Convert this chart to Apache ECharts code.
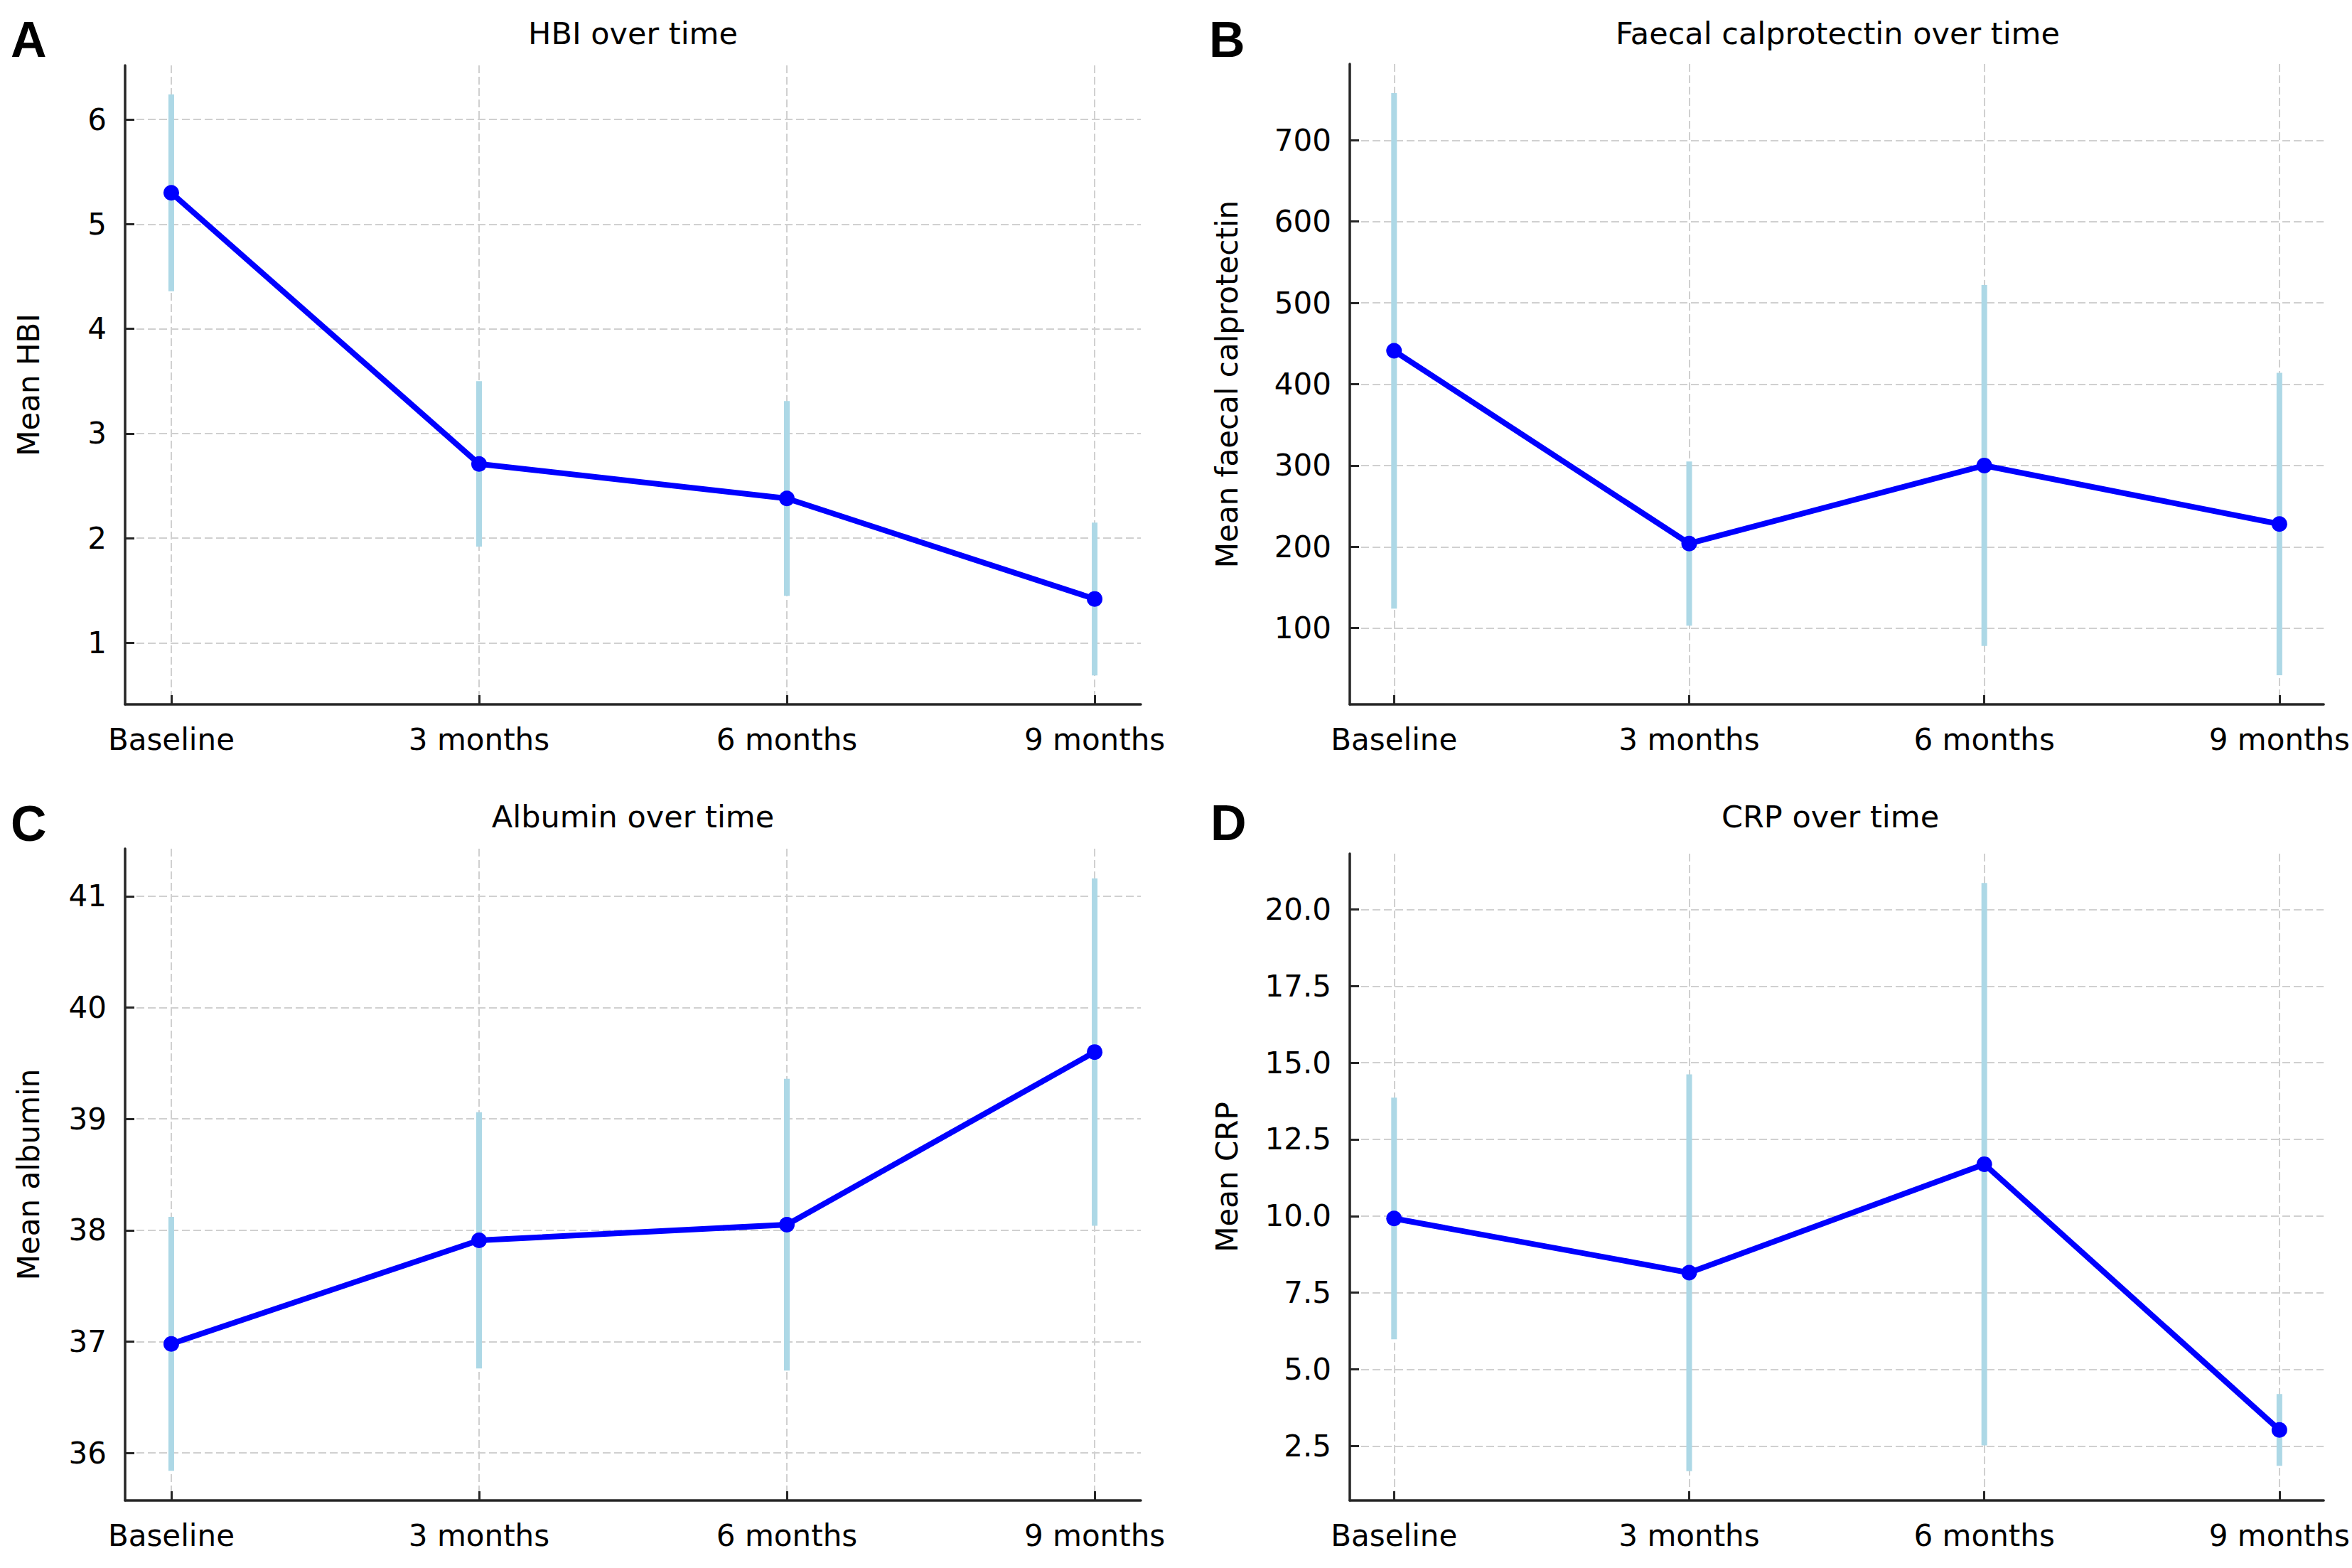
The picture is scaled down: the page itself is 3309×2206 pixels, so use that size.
<!DOCTYPE html>
<html>
<head>
<meta charset="utf-8">
<title>Outcomes over time</title>
<script src="https://cdn.jsdelivr.net/npm/echarts@6/dist/echarts.min.js"></script>
<style>
  html, body { margin: 0; padding: 0; background: #ffffff; }
  #chart { width: 3309px; height: 2206px; }
</style>
</head>
<body>
<div id="chart"></div>
<script>
// ---- data ----
const categories = ['Baseline', '3 months', '6 months', '9 months'];

const hbiMean = [5.30, 2.71, 2.38, 1.42];
const hbiErr  = [0.94, 0.79, 0.93, 0.73];

const fcMean = [441, 204, 300, 228];
const fcErr  = [317, 101, 222, 186];

const albMean = [36.98, 37.91, 38.05, 39.60];
const albErr  = [1.14, 1.15, 1.31, 1.56];

const crpMean = [9.92, 8.15, 11.69, 3.02];
const crpErr  = [3.94, 6.47, 9.17, 1.17];

const hbiTicks = [1, 2, 3, 4, 5, 6];
const fcTicks  = [100, 200, 300, 400, 500, 600, 700];
const albTicks = [36, 37, 38, 39, 40, 41];
const crpTicks = [2.5, 5.0, 7.5, 10.0, 12.5, 15.0, 17.5, 20.0];

const titles  = ['HBI over time', 'Faecal calprotectin over time', 'Albumin over time', 'CRP over time'];
const yNames  = ['Mean HBI', 'Mean faecal calprotectin', 'Mean albumin', 'Mean CRP'];
const letters = ['A', 'B', 'C', 'D'];

// ---- layout ----
const grids = [
  { left: 176,  top: 92,   width: 1429, height: 899 },
  { left: 1899, top: 90,   width: 1373, height: 901 },
  { left: 176,  top: 1194, width: 1429, height: 917 },
  { left: 1899, top: 1201, width: 1373, height: 910 }
];
const nameGaps = [115, 152, 115, 152];
const titlePos = [[890.5, 46.5], [2585.5, 46.5], [890.5, 1148.5], [2575, 1148.5]];
const letterPos = [[15, 56], [1701, 56], [15, 1159], [1703, 1158]];

const panels = [
  { mean: hbiMean, err: hbiErr, ticks: hbiTicks, fmt: v => String(v) },
  { mean: fcMean,  err: fcErr,  ticks: fcTicks,  fmt: v => String(v) },
  { mean: albMean, err: albErr, ticks: albTicks, fmt: v => String(v) },
  { mean: crpMean, err: crpErr, ticks: crpTicks, fmt: v => Number(v).toFixed(1) }
];

const xIdx = categories.map((c, i) => i);
const axisColor = '#262626';
const gridLine = { show: true, lineStyle: { color: '#d0d0d0', width: 2, type: [11, 5] } };
const FONT = 'DejaVu Sans';

const xAxes = [], yAxes = [], series = [], graphics = [];

panels.forEach((p, k) => {
  const lows = p.mean.map((m, i) => m - p.err[i]);
  const highs = p.mean.map((m, i) => m + p.err[i]);
  const lo = Math.min(...lows), hi = Math.max(...highs);
  const pad = (hi - lo) * 0.05;

  xAxes.push({
    gridIndex: k, type: 'value', min: -0.15, max: 3.15,
    axisLine: { show: true, onZero: false, lineStyle: { color: axisColor, width: 3.5 } },
    axisTick: { show: true, inside: true, length: 13, customValues: xIdx,
                lineStyle: { color: axisColor, width: 3 } },
    axisLabel: { show: true, customValues: xIdx, formatter: v => categories[Math.round(v)],
                 fontSize: 42, fontFamily: FONT, color: '#000', margin: 28 },
    splitLine: gridLine
  });
  yAxes.push({
    gridIndex: k, type: 'value', min: lo - pad, max: hi + pad,
    name: yNames[k], nameLocation: 'middle', nameGap: nameGaps[k], nameRotate: 90,
    nameTextStyle: { fontSize: 42, fontFamily: FONT, color: '#000' },
    axisLine: { show: true, onZero: false, lineStyle: { color: axisColor, width: 3.5 } },
    axisTick: { show: true, inside: true, length: 13, customValues: p.ticks,
                lineStyle: { color: axisColor, width: 3 } },
    axisLabel: { show: true, customValues: p.ticks, formatter: p.fmt,
                 fontSize: 42, fontFamily: FONT, color: '#000', margin: 26 },
    splitLine: gridLine
  });

  series.push({
    type: 'custom', xAxisIndex: k, yAxisIndex: k, z: 2,
    data: xIdx.map(i => [i, lows[i], highs[i]]),
    encode: { x: 0, y: [1, 2] },
    renderItem: (params, api) => {
      const a = api.coord([api.value(0), api.value(1)]);
      const b = api.coord([api.value(0), api.value(2)]);
      return { type: 'line', shape: { x1: a[0], y1: a[1], x2: b[0], y2: b[1] },
               style: { stroke: '#ADD8E6', lineWidth: 8 } };
    }
  });
  series.push({
    type: 'line', xAxisIndex: k, yAxisIndex: k, z: 3,
    data: xIdx.map(i => [i, p.mean[i]]),
    symbol: 'circle', symbolSize: 22, showSymbol: true,
    lineStyle: { color: '#0000ff', width: 8 },
    itemStyle: { color: '#0000ff' }
  });

  graphics.push({
    type: 'text', x: titlePos[k][0], y: titlePos[k][1],
    style: { text: titles[k], fontSize: 43, fontFamily: FONT, fill: '#000',
             textAlign: 'center', textVerticalAlign: 'middle' }
  });
  graphics.push({
    type: 'text', x: letterPos[k][0], y: letterPos[k][1],
    style: { text: letters[k], fontSize: 70, fontWeight: 'bold', fontFamily: 'Liberation Sans',
             fill: '#000', textAlign: 'left', textVerticalAlign: 'middle' }
  });
});

const chart = echarts.init(document.getElementById('chart'), null, { renderer: 'svg' });
chart.setOption({
  animation: false,
  backgroundColor: '#ffffff',
  grid: grids.map(g => Object.assign({ containLabel: false }, g)),
  xAxis: xAxes,
  yAxis: yAxes,
  series: series,
  graphic: graphics
});
</script>
</body>
</html>
